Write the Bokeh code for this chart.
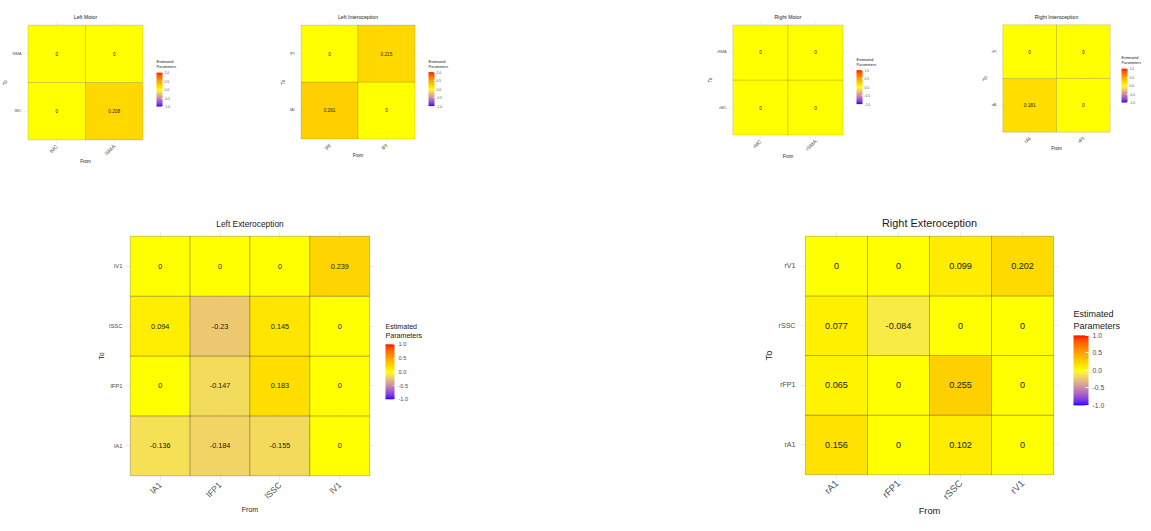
import math
from bokeh.plotting import figure
from bokeh.models import (FactorRange, ColumnDataSource, LinearColorMapper, ColorBar,
                          FixedTicker, PrintfTickFormatter)
from bokeh.layouts import row, column
from bokeh.embed import file_html
from bokeh.resources import INLINE
from bokeh.core.properties import value

# ---------------- data (rows = "To", cols = "From"; node order bottom -> top / left -> right)
lm_nodes = ["lMC", "lSMA"]
lm_vals = [[0, 0.208],
           [0, 0]]

li_nodes = ["lAI", "lPI"]
li_vals = [[0.261, 0],
           [0, 0.215]]

rm_nodes = ["rMC", "rSMA"]
rm_vals = [[0, 0],
           [0, 0]]

ri_nodes = ["rAI", "rPI"]
ri_vals = [[0.181, 0],
           [0, 0]]

le_nodes = ["lA1", "lFP1", "lSSC", "lV1"]
le_vals = [[-0.136, -0.184, -0.155, 0],
           [0, -0.147, 0.183, 0],
           [0.094, -0.23, 0.145, 0],
           [0, 0, 0, 0.239]]

re_nodes = ["rA1", "rFP1", "rSSC", "rV1"]
re_vals = [[0.156, 0, 0.102, 0],
           [0.065, 0, 0.255, 0],
           [0.077, -0.084, 0, 0],
           [0, 0, 0.099, 0.202]]

cb_ticks = [-1, -0.5, 0, 0.5, 1]
legend_title = "Estimated\nParameters"

FONT = "Liberation Sans"


# ---------------- diverging palette blue -> yellow -> red interpolated in Lab
def _to_lab(h):
    rgb = [int(h[i:i + 2], 16) / 255 for i in (1, 3, 5)]
    lin = [c / 12.92 if c <= 0.04045 else ((c + 0.055) / 1.055) ** 2.4 for c in rgb]
    r, g, b = lin
    X = (0.4124564 * r + 0.3575761 * g + 0.1804375 * b) / 0.95047
    Y = (0.2126729 * r + 0.7151522 * g + 0.0721750 * b)
    Z = (0.0193339 * r + 0.1191920 * g + 0.9503041 * b) / 1.08883

    def f(t):
        return t ** (1 / 3) if t > 216 / 24389 else (24389 / 27 * t + 16) / 116
    fx, fy, fz = f(X), f(Y), f(Z)
    return (116 * fy - 16, 500 * (fx - fy), 200 * (fy - fz))


def _to_hex(lab):
    L, a, b = lab
    fy = (L + 16) / 116
    fx = fy + a / 500
    fz = fy - b / 200

    def finv(t):
        return t ** 3 if t ** 3 > 216 / 24389 else (116 * t - 16) / (24389 / 27)
    X, Y, Z = finv(fx) * 0.95047, finv(fy), finv(fz) * 1.08883
    r = 3.2404542 * X - 1.5371385 * Y - 0.4985314 * Z
    g = -0.9692660 * X + 1.8760108 * Y + 0.0415560 * Z
    bb = 0.0556434 * X - 0.2040259 * Y + 1.0572252 * Z

    def gam(c):
        c = max(0.0, min(1.0, c))
        return 12.92 * c if c <= 0.0031308 else 1.055 * c ** (1 / 2.4) - 0.055
    return "#%02x%02x%02x" % tuple(int(round(gam(c) * 255)) for c in (r, g, bb))


LOW, MID, HIGH = _to_lab("#0000ff"), _to_lab("#ffff00"), _to_lab("#ff0000")
N = 255
palette = []
for i in range(N):
    t = -1 + 2 * (i + 0.5) / N
    if t < 0:
        s = t + 1
        lab = tuple(LOW[k] + (MID[k] - LOW[k]) * s for k in range(3))
    else:
        lab = tuple(MID[k] + (HIGH[k] - MID[k]) * t for k in range(3))
    palette.append(_to_hex(lab))


def make_panel(title, nodes, vals, geom, st):
    bl, bt, fw, fh, bb, br = geom
    xs, ys, vs, ts = [], [], [], []
    for i, to in enumerate(nodes):
        for j, fr in enumerate(nodes):
            xs.append(fr)
            ys.append(to)
            vs.append(vals[i][j])
            ts.append(f"{vals[i][j]:g}")
    src = ColumnDataSource(dict(x=xs, y=ys, v=vs, t=ts))
    pad = 0.16 / len(nodes)
    p = figure(x_range=FactorRange(factors=nodes, range_padding=pad),
               y_range=FactorRange(factors=nodes, range_padding=pad),
               frame_width=fw, frame_height=fh,
               min_border_left=bl, min_border_right=br,
               min_border_top=bt, min_border_bottom=bb,
               output_backend="svg", toolbar_location=None,
               title=title, x_axis_label="From", y_axis_label="To")
    p.outline_line_color = None
    p.background_fill_color = "white"
    p.border_fill_color = "white"
    mapper = LinearColorMapper(palette=palette, low=-1, high=1)
    p.rect(x="x", y="y", width=1, height=1, source=src,
           fill_color={"field": "v", "transform": mapper},
           line_color="black", line_alpha=0.22, line_width=st["tile_lw"])
    p.text(x="x", y="y", text="t", source=src, text_align="center",
           text_baseline="middle", text_font_size=st["cell"],
           text_font=value(FONT), text_color="#1a1a1a")

    p.title.text_font = FONT
    p.title.text_font_size = st["title"]
    p.title.text_font_style = "normal"
    p.title.text_color = "#1a1a1a"
    p.title.align = "center"
    p.title.standoff = st["title_so"]

    for ax, k in ((p.xaxis[0], "x"), (p.yaxis[0], "y")):
        ax.axis_line_color = None
        ax.major_tick_line_color = None
        ax.minor_tick_line_color = None
        ax.major_tick_out = 0
        ax.major_tick_in = 0
        ax.major_label_text_font = FONT
        ax.major_label_text_color = "#4d4d4d"
        ax.major_label_text_font_size = st[k + "tick"]
        ax.axis_label_text_font = FONT
        ax.axis_label_text_font_style = "normal"
        ax.axis_label_text_font_size = st["axlab"]
        ax.axis_label_text_color = "#1a1a1a"
        ax.major_label_standoff = st[k + "_lab_so"]
        ax.axis_label_standoff = st[k + "_axlab_so"]
    p.xaxis[0].major_label_orientation = math.pi / 4
    p.grid.grid_line_color = "#ebebeb"
    p.grid.grid_line_width = st["grid_lw"]

    # legend: colour bar, positioned relative to the frame
    bx = fw + st["bar_dx"]
    bar_bottom = fh / 2 - st["bar_off"] - st["bar_h"] / 2
    bar_top = bar_bottom + st["bar_h"]
    cb = ColorBar(color_mapper=mapper, ticker=FixedTicker(ticks=cb_ticks),
                  formatter=PrintfTickFormatter(format="%.1f"),
                  width=st["bar_w"], height=st["bar_h"],
                  location=(bx, bar_bottom - st["box_adj"]), margin=0, padding=0,
                  major_label_text_font=FONT, major_label_text_font_size=st["cbl"],
                  major_label_text_color="#4d4d4d", label_standoff=st["cbl_so"],
                  major_tick_line_color="white", major_tick_in=max(1, st["bar_w"] // 5),
                  major_tick_out=0, minor_tick_line_color=None,
                  bar_line_color=None, border_line_color=None,
                  background_fill_alpha=0)
    p.add_layout(cb)

    # legend title: horizontal two-line title above the bar (carried by a
    # zero-height horizontal colour-bar box so it is not clipped to the frame)
    fsz = float(st["cbt"].replace("px", ""))
    ty = bar_top + st["t2"] - 0.6 * fsz
    tb = ColorBar(color_mapper=mapper, orientation="horizontal",
                  ticker=FixedTicker(ticks=[]), title=legend_title,
                  width=1, height=1, scale_alpha=0,
                  location=(bx, ty), margin=0, padding=0,
                  title_text_font=FONT, title_text_font_size=st["cbt"],
                  title_text_font_style="normal", title_text_color="#1a1a1a",
                  title_standoff=0, major_label_text_alpha=0,
                  major_tick_line_color=None, minor_tick_line_color=None,
                  bar_line_color=None, border_line_color=None,
                  background_fill_alpha=0)
    p.add_layout(tb)
    return p


small = dict(title="5.2px", cell="4.7px", xtick="5.2px", ytick="3.8px", axlab="4.6px",
             cbt="3.8px", cbl="3.2px", bar_w=6, bar_h=34, bar_dx=9, bar_off=5.5,
             box_adj=1.6, cbl_so=2, t2=3,
             x_lab_so=1, x_axlab_so=-3, y_lab_so=2, y_axlab_so=1, title_so=1,
             tile_lw=0.6, grid_lw=0.6)
small_ri = dict(small, bar_dx=7)
mid = dict(title="8.4px", cell="7.3px", xtick="8.5px", ytick="5.9px", axlab="7px",
           cbt="7.1px", cbl="5.6px", bar_w=9, bar_h=55, bar_dx=11, bar_off=13,
           box_adj=2.8, cbl_so=4, t2=4.5,
           x_lab_so=3, x_axlab_so=-1, y_lab_so=3, y_axlab_so=1, title_so=5,
           tile_lw=1, grid_lw=1)
big = dict(title="10.9px", cell="9.1px", xtick="9.5px", ytick="7.1px", axlab="9.3px",
           cbt="9px", cbl="6.8px", bar_w=15, bar_h=70, bar_dx=15, bar_off=11.5,
           box_adj=3.4, cbl_so=4, t2=5.7,
           x_lab_so=2, x_axlab_so=-2, y_lab_so=5, y_axlab_so=2, title_so=5,
           tile_lw=1, grid_lw=1)

# geometry: (border_left, border_top, frame_w, frame_h, border_bottom, border_right)
p_lm = make_panel("Left Motor", lm_nodes, lm_vals, (20, 16, 124, 124, 26, 126), small)
p_li = make_panel("Left Interoception", li_nodes, li_vals, (23, 16, 123, 123, 27, 286), small)
p_rm = make_panel("Right Motor", rm_nodes, rm_vals, (20, 18, 119, 119, 29, 125), small)
p_ri = make_panel("Right Interoception", ri_nodes, ri_vals, (26, 20, 116, 116, 30, 27), small_ri)
p_le = make_panel("Left Exteroception", le_nodes, le_vals, (125, 65, 249, 249, 35, 386), mid)
p_re = make_panel("Right Exteroception", re_nodes, re_vals, (40, 57, 258, 248, 44, 77), big)

layout = column(row(p_lm, p_li, p_rm, p_ri), row(p_le, p_re))
open("out.html", "w").write(file_html(layout, INLINE))
